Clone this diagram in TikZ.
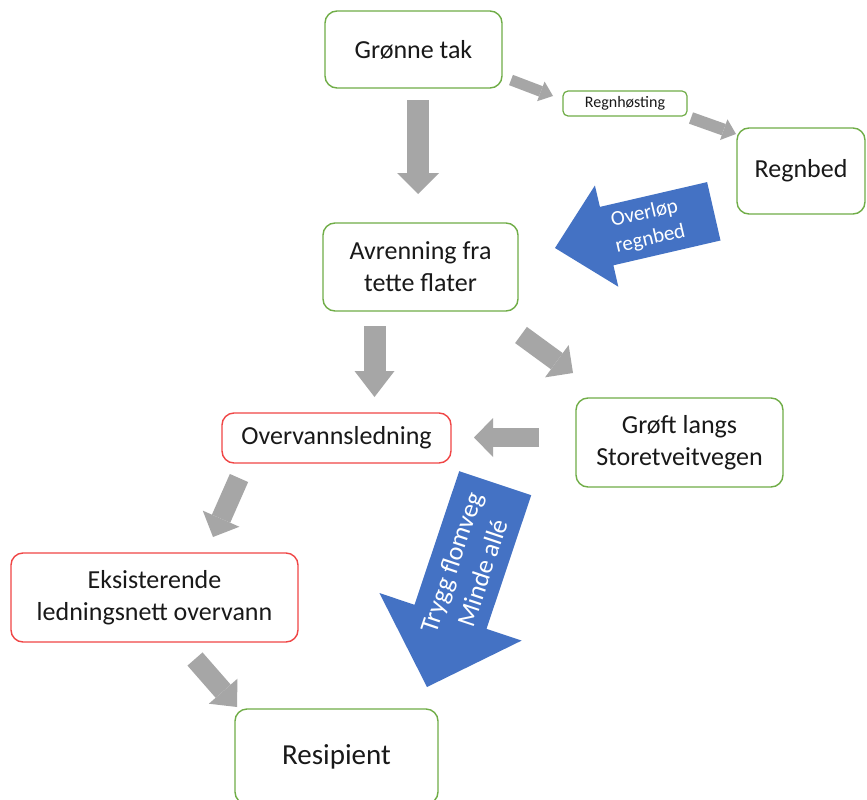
\documentclass[tikz,border=0pt]{standalone}
\usepackage{fontspec}
\setmainfont{Carlito}
\usetikzlibrary{arrows.meta}
\definecolor{boxgreen}{RGB}{112,173,71}
\definecolor{boxred}{RGB}{240,70,70}
\definecolor{agray}{RGB}{166,166,166}
\definecolor{ablue}{RGB}{68,114,196}
\begin{document}
\begin{tikzpicture}[x=1pt,y=-1pt,
  gbox/.style={draw=boxgreen, line width=1.4pt, rounded corners=12pt, align=center, inner sep=0pt, text=black!90, font=\fontsize{26}{32}\selectfont},
  rbox/.style={gbox, draw=boxred},
  garrow/.style n args={3}{draw=agray, line width=#1, -{Triangle[width=#2,length=#3,line width=0pt,fill=agray]}},
  btext/.style={text=white, align=center, inner sep=0pt}
  ]
\useasboundingbox (0,0) rectangle (867,800);
\fill[white] (0,0) rectangle (867,800);

% boxes
\node[gbox, minimum width=177pt, minimum height=77pt] (gt) at (413.5,49.5) {Grønne tak};
\node[gbox, minimum width=124pt, minimum height=25pt, rounded corners=5pt, line width=1.2pt, font=\fontsize{16}{19}\selectfont] (rh) at (625,103.5) {Regnhøsting};
\node[gbox, minimum width=128pt, minimum height=86pt] (rb) at (801,171) {Regnbed};
\node[gbox, minimum width=195pt, minimum height=88pt] (av) at (420.5,267) {Avrenning fra\\tette flater};
\node[rbox, minimum width=229pt, minimum height=50pt] (ov) at (336.5,438) {Overvannsledning};
\node[gbox, minimum width=207pt, minimum height=89pt] (gr) at (679.5,442.5) {Grøft langs\\Storetveitvegen};
\node[rbox, minimum width=287pt, minimum height=89pt] (ek) at (154.5,597.5) {Eksisterende\\ledningsnett overvann};
\node[gbox, minimum width=203pt, minimum height=95pt, font=\fontsize{29}{34}\selectfont] (re) at (336.5,756.5) {Resipient};

% gray block arrows
\coordinate (a1s) at (418,100);   \coordinate (a1e) at (418,194);
\coordinate (a2s) at (511,80);    \coordinate (a2e) at (553,96);
\coordinate (a3s) at (691,118);   \coordinate (a3e) at (736,134);
\coordinate (a4s) at (374.5,326); \coordinate (a4e) at (374.5,397);
\coordinate (a5s) at (521,335);   \coordinate (a5e) at (573,373);
\coordinate (a6s) at (539,437.5); \coordinate (a6e) at (474,437.5);
\coordinate (a7s) at (239,478);   \coordinate (a7e) at (213,537);
\coordinate (a8s) at (195,659);   \coordinate (a8e) at (237,707);
\draw[garrow={22pt}{42pt}{21pt}] (a1s) -- (a1e);
\draw[garrow={11pt}{21pt}{13pt}] (a2s) -- (a2e);
\draw[garrow={12pt}{22pt}{13pt}] (a3s) -- (a3e);
\draw[garrow={22pt}{40pt}{26pt}] (a4s) -- (a4e);
\draw[garrow={20pt}{40pt}{20pt}] (a5s) -- (a5e);
\draw[garrow={19pt}{39pt}{19pt}] (a6s) -- (a6e);
\draw[garrow={20pt}{40pt}{20pt}] (a7s) -- (a7e);
\draw[garrow={20pt}{38pt}{21pt}] (a8s) -- (a8e);

% blue arrows
\fill[ablue] (555,248) -- (594.9,185.5) -- (599.9,206.9) -- (707.1,182.1) -- (720.5,240.5) -- (613.4,265.3) -- (618.3,286.7) -- cycle;
\node[btext, rotate=13, font=\fontsize{21}{26}\selectfont] (ovl) at (647.5,226.6) {Overløp\\regnbed};

\fill[ablue] (427,687) -- (379.4,593.0) -- (414.5,604.8) -- (459.2,471.2) -- (531.2,495.2) -- (486.5,628.9) -- (521.6,640.6) -- cycle;
\node[btext, rotate=71.5, font=\fontsize{26}{33}\selectfont] (tfl) at (467,567.6) {Trygg flomveg\\Minde allé};
\end{tikzpicture}
\end{document}
